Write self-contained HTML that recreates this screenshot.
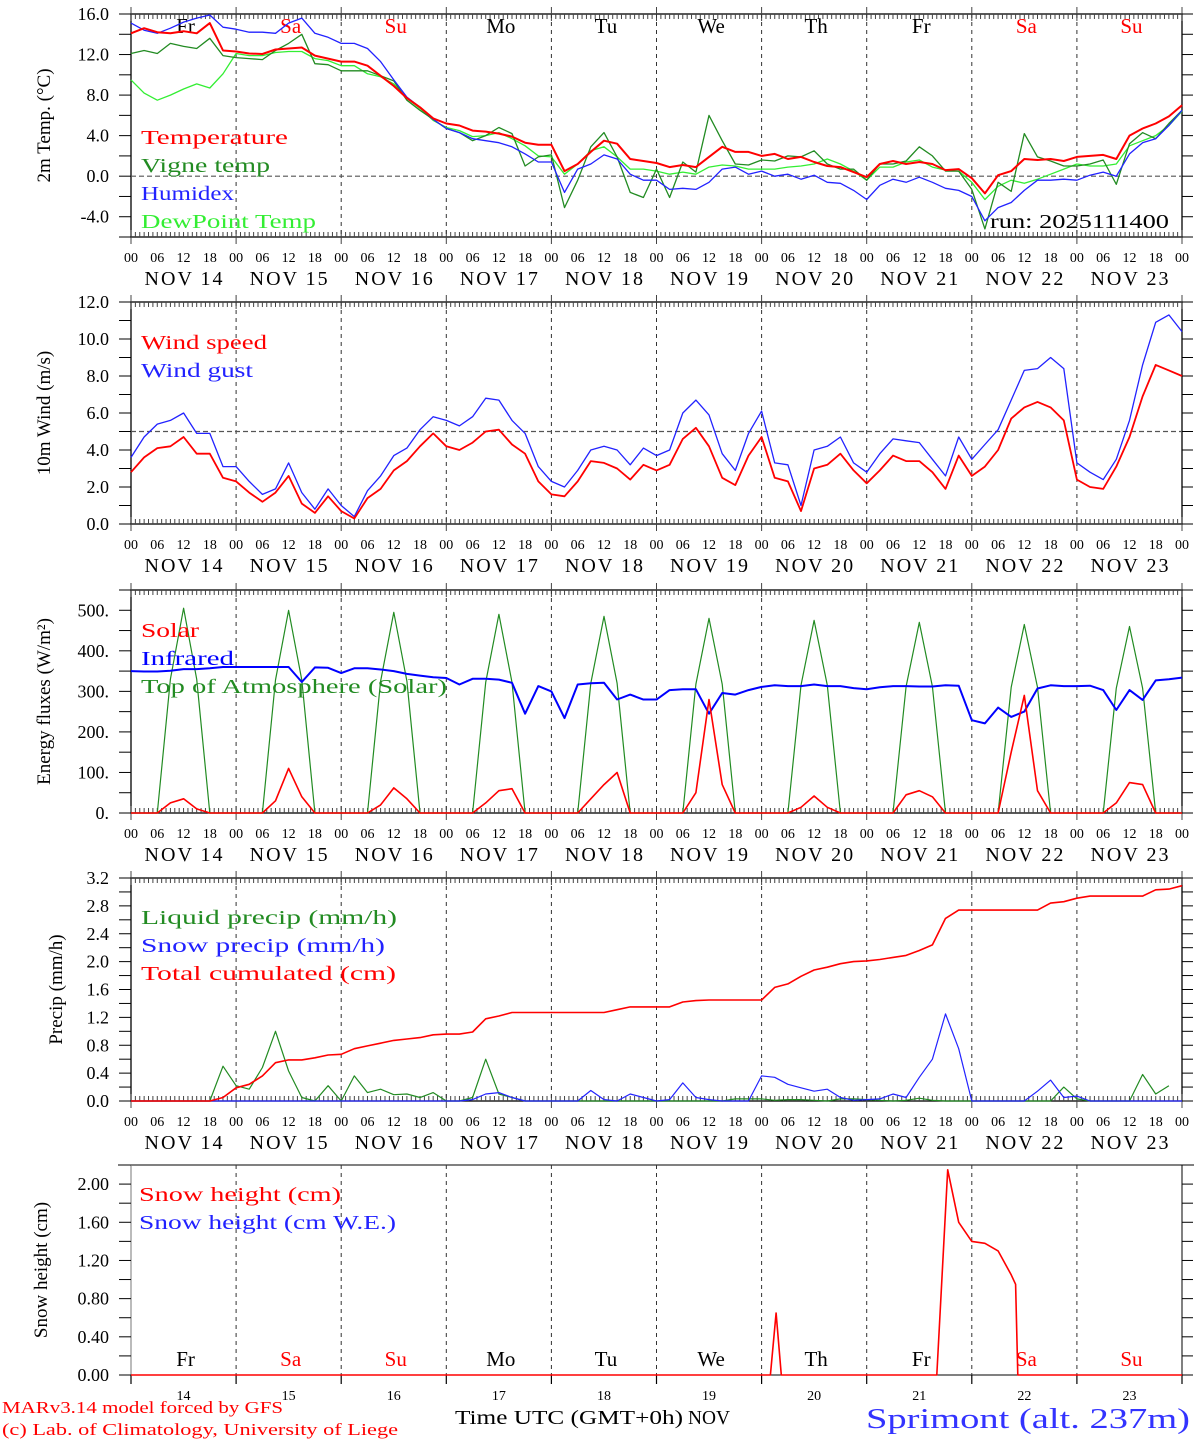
<!DOCTYPE html>
<html><head><meta charset="utf-8"><title>MAR forecast Sprimont</title>
<style>
html,body{margin:0;padding:0;background:#fff;}
svg{display:block;font-family:"Liberation Serif","DejaVu Serif",serif;}
</style></head>
<body>
<svg id="chart" width="1194" height="1440" viewBox="0 0 1194 1440" xmlns="http://www.w3.org/2000/svg"></svg>
<script>
// ---------- DATA (3-hourly, hours since Nov 14 00 UTC) ----------
const hours = [0,3,6,9,12,15,18,21,24,27,30,33,36,39,42,45,48,51,54,57,60,63,66,69,72,75,78,81,84,87,90,93,96,99,102,105,108,111,114,117,120,123,126,129,132,135,138,141,144,147,150,153,156,159,162,165,168,171,174,177,180,183,186,189,192,195,198,201,204,207,210,213,216,219,222,225,228,231,234,237,240];
const dayNames = ["Fr","Sa","Su","Mo","Tu","We","Th","Fr","Sa","Su"];
const dayDates = ["14","15","16","17","18","19","20","21","22","23"];
const hourTickLabels = ["00","06","12","18"];

const temperature = [14.1,14.6,14.2,14.1,14.3,14.1,15.1,12.4,12.3,12.1,12.05,12.5,12.6,12.7,11.9,11.6,11.3,11.3,10.9,9.9,8.9,7.7,6.8,5.7,5.2,5.0,4.5,4.4,4.2,3.9,3.3,3.1,3.1,0.5,1.2,2.4,3.5,3.2,1.7,1.5,1.3,
 0.9,1.1,0.9,1.9,2.9,2.4,2.4,2.0,2.2,1.7,1.9,1.4,1.0,0.9,0.4,-0.1,1.2,1.5,1.2,1.4,1.2,0.6,0.7,-0.2,-1.7,0.1,0.5,1.7,1.6,1.7,1.5,1.9,2.0,2.1,1.7,4.0,4.7,5.2,5.9,7.0];
const humidex = [15.1,14.4,14.1,14.6,15.2,15.6,15.9,14.7,14.5,14.2,14.2,14.1,15.1,15.6,14.1,13.7,13.1,13.1,12.6,11.3,9.5,7.8,6.8,5.6,4.7,4.3,3.7,3.5,3.3,2.9,2.2,1.4,1.4,-1.6,0.7,1.2,2.1,1.7,0.2,-0.4,-0.4,
 -1.3,-1.2,-1.3,-0.6,0.7,0.9,0.2,0.5,0.0,0.2,-0.3,0.1,-0.6,-0.7,-1.4,-2.3,-0.9,-0.3,-0.6,-0.1,-0.6,-1.2,-1.4,-2.0,-4.4,-3.1,-2.6,-1.4,-0.4,-0.4,-0.3,-0.4,0.1,0.4,0.0,2.2,3.3,3.7,5.0,6.5];
const vigneTemp = [12.1,12.4,12.1,13.1,12.8,12.6,13.6,11.9,11.7,11.6,11.5,12.4,13.1,14.0,11.1,11.0,10.4,10.4,10.4,9.9,9.4,7.5,6.5,5.6,4.7,4.3,3.5,4.0,4.8,4.2,1.0,1.9,2.1,-3.1,-0.4,2.9,4.3,1.9,-1.6,-2.1,0.7,
 -2.1,1.4,0.4,6.0,3.5,1.2,1.1,1.6,1.5,2.0,1.9,2.5,1.2,0.7,0.7,-0.4,1.2,1.2,1.5,2.9,2.0,0.5,0.5,-1.3,-5.2,-0.6,-1.5,4.2,1.9,1.5,1.0,1.0,1.2,1.6,-0.8,3.2,4.3,3.7,5.2,6.5];
const dewPoint = [9.5,8.2,7.5,8.0,8.6,9.1,8.7,10.1,12.1,11.9,11.9,12.2,12.3,12.3,11.6,11.4,10.9,10.9,10.1,9.8,9.1,7.7,6.7,5.5,4.8,4.5,3.9,4.0,4.3,3.7,3.0,2.0,1.9,0.2,1.2,2.5,2.9,1.9,0.7,0.7,0.5,
 0.2,0.4,0.2,0.9,1.1,1.0,0.7,0.7,0.7,0.9,1.0,1.2,1.7,1.2,0.5,-0.4,0.9,0.9,1.4,1.6,0.9,0.6,0.5,-0.6,-2.3,-1.0,-0.4,-0.7,-0.3,0.2,0.7,1.2,1.0,1.0,1.2,3.0,3.5,4.0,5.0,6.4];

const windSpeed = [2.8,3.6,4.1,4.2,4.7,3.8,3.8,2.5,2.3,1.7,1.2,1.7,2.6,1.1,0.6,1.5,0.7,0.3,1.4,1.9,2.9,3.4,4.2,4.9,4.2,4.0,4.4,5.0,5.1,4.3,3.8,2.3,1.6,1.5,2.3,3.4,3.3,3.0,2.4,3.2,2.9,
 3.2,4.6,5.2,4.2,2.5,2.1,3.7,4.7,2.5,2.3,0.7,3.0,3.2,3.8,2.9,2.2,2.9,3.7,3.4,3.4,2.8,1.9,3.7,2.6,3.1,4.0,5.7,6.3,6.6,6.3,5.6,2.4,2.0,1.9,3.1,4.7,6.9,8.6,8.3,8.0];
const windGust = [3.6,4.7,5.4,5.6,6.0,4.9,4.9,3.1,3.1,2.3,1.6,1.9,3.3,1.7,0.8,1.9,1.0,0.4,1.8,2.6,3.7,4.1,5.1,5.8,5.6,5.3,5.8,6.8,6.7,5.6,4.9,3.1,2.3,2.0,2.9,4.0,4.2,4.0,3.2,4.1,3.7,
 4.0,6.0,6.7,5.9,3.8,2.9,4.9,6.1,3.3,3.2,1.0,4.0,4.2,4.7,3.3,2.8,3.8,4.6,4.5,4.4,3.5,2.6,4.7,3.5,4.3,5.1,6.7,8.3,8.4,9.0,8.4,3.3,2.8,2.4,3.5,5.6,8.6,10.9,11.3,10.4];

const solar = [0,0,0,25,35,10,0,0, 0,0,0,30,110,40,0,0, 0,0,0,20,62,35,0,0, 0,0,0,25,55,60,0,0, 0,0,0,35,70,100,0,0,
 0,0,0,50,280,70,0,0, 0,0,0,14,42,14,0,0, 0,0,0,45,55,40,0,0, 0,0,0,150,290,55,0,0, 0,0,0,25,75,70,0,0, 0];
const infrared = [350,349,349,351,355,355,357,360,360,360,360,360,360,323,359,358,345,357,357,354,350,343,339,335,333,317,331,331,329,321,245,313,300,234,317,320,321,280,292,280,280,
 303,305,305,245,296,292,303,311,315,313,313,317,313,313,308,305,310,313,313,312,312,315,314,229,221,260,237,250,307,315,313,313,314,303,254,303,279,327,330,334];
const toaSolar = [0,0,0,330,505,330,0,0, 0,0,0,328,500,328,0,0, 0,0,0,325,495,325,0,0, 0,0,0,322,490,322,0,0, 0,0,0,320,485,320,0,0,
 0,0,0,318,480,318,0,0, 0,0,0,315,475,315,0,0, 0,0,0,312,470,312,0,0, 0,0,0,310,465,310,0,0, 0,0,0,308,460,308,0,0, 0];

const liquidPrecip = [0,0,0,0,0,0,0,0.5,0.22,0.17,0.48,1.0,0.43,0.05,0,0.22,0,0.36,0.12,0.17,0.09,0.1,0.05,0.12,0,0,0.05,0.6,0.1,0.05,0,0,0,0,0,0,0,0,0,0,0,
 0,0,0,0,0,0.03,0.03,0.03,0.01,0.02,0.02,0.01,0,0.03,0.03,0.02,0.01,0,0.01,0.04,0.01,0,0,0,0,0,0,0,0,0,0.2,0.03,0,0,0,0,0.38,0.1,0.22];
const snowPrecip = [0,0,0,0,0,0,0,0,0,0,0,0,0,0,0,0,0,0,0,0,0,0,0,0,0,0,0.02,0.1,0.12,0.05,0,0,0,0,0,0.15,0.02,0,0.1,0.05,0,
 0.02,0.26,0.05,0.02,0,0,0,0.36,0.34,0.24,0.19,0.14,0.17,0.05,0.01,0.02,0.03,0.1,0.05,0.34,0.6,1.25,0.75,0,0,0,0,0,0.14,0.3,0.05,0.07,0,0,0,0,0,0,0,0];
const totalCumulated = [0,0,0,0,0,0,0,0.05,0.19,0.24,0.36,0.55,0.59,0.59,0.62,0.66,0.67,0.75,0.79,0.83,0.87,0.89,0.91,0.95,0.96,0.96,0.99,1.18,1.22,1.27,1.27,1.27,1.27,1.27,1.27,1.27,1.27,1.31,1.35,1.35,1.35,
 1.35,1.42,1.44,1.45,1.45,1.45,1.45,1.45,1.63,1.68,1.79,1.88,1.92,1.97,2.0,2.01,2.03,2.06,2.09,2.16,2.24,2.62,2.74,2.74,2.74,2.74,2.74,2.74,2.74,2.84,2.86,2.91,2.94,2.94,2.94,2.94,2.94,3.03,3.04,3.09];

const snowHours = [0,146,147.3,148.5,184,186.5,189,192,195,198,201,202,202.5,240];
const snowHeight = [0,0,0.65,0,0,2.15,1.6,1.4,1.38,1.3,1.05,0.95,0,0];

// ---------- LAYOUT ----------
const NS = "http://www.w3.org/2000/svg";
const svg = document.getElementById("chart");
const X0 = 131, X1 = 1182, HMAX = 240;
function xs(h){ return X0 + h * (X1 - X0) / HMAX; }
function el(tag, attrs, parent){
  const e = document.createElementNS(NS, tag);
  for (const k in attrs) e.setAttribute(k, attrs[k]);
  (parent || svg).appendChild(e);
  return e;
}
function txt(x, y, s, attrs){
  const e = el("text", Object.assign({x:x, y:y}, attrs || {}));
  e.textContent = s;
  return e;
}
function mkPanel(top, bot, min, max){
  return {top, bot, min, max, y: v => top + (max - v) / (max - min) * (bot - top)};
}
const P1 = mkPanel(14, 237, -6, 16);
const P2 = mkPanel(302, 524, 0, 12);
const P3 = mkPanel(590, 813, 0, 550);
const P4 = mkPanel(878, 1101, 0, 3.2);
const P5 = mkPanel(1165, 1375, 0, 2.2);

function series(panel, arr, color, width, name, hx){
  const hh = hx || hours;
  let d = "";
  for (let i = 0; i < arr.length; i++) d += (i ? "L" : "M") + xs(hh[i]).toFixed(1) + "," + panel.y(arr[i]).toFixed(1);
  const p = el("path", {d:d, fill:"none", stroke:color, "stroke-width":width, "stroke-linejoin":"round"});
  
  
  return p;
}

function yAxis(panel, step, labelEvery, fmt, titleText, titleX, name){
  const n = Math.round((panel.max - panel.min) / step);
  for (let i = 0; i <= n; i++){
    const v = panel.min + i * step;
    const y = panel.y(v);
    const t1 = el("line", {x1:119, y1:y, x2:X0, y2:y, stroke:"#000", "stroke-width":1});
    
    
    const t2 = el("line", {x1:X1, y1:y, x2:X1+11, y2:y, stroke:"#000", "stroke-width":1});
    
    
    if (Math.abs(((v / labelEvery) - Math.round(v / labelEvery))) < 1e-6){
      if (!(panel === P1 && v === -6) && !(panel === P3 && v === 550) && !(panel === P5 && Math.abs(v-2.2)<1e-6)){
        const lb = txt(109, y + 6, fmt(v), {"font-size":18, "text-anchor":"end", fill:"#000"});
        
        
      }
    }
  }
  const cy = (panel.top + panel.bot) / 2;
  const tt = txt(titleX, cy, titleText, {"font-size":19, "text-anchor":"middle", transform:"rotate(-90 " + titleX + " " + cy + ")", fill:"#000"});
  
  
}

function xFrame(panel, name, withLabels){
  const r = el("rect", {x:X0, y:panel.top, width:X1-X0, height:panel.bot-panel.top, fill:"none", stroke:"#000", "stroke-width":1.3});
  
  
  for (let h = 0; h <= HMAX; h++){
    const x = xs(h);
    const major = h % 24 === 0;
    const a = el("line", {x1:x, y1:major ? panel.top-7 : panel.top, x2:x, y2:panel.top + (major ? 7 : 5), stroke:"#444", "stroke-width":1});
    
    
    const b = el("line", {x1:x, y1:panel.bot - (major ? 7 : 5), x2:x, y2:major ? panel.bot+7 : panel.bot, stroke:"#444", "stroke-width":1});
    
    
  }
  for (let d = 1; d < 10; d++){
    const x = xs(d * 24);
    const g = el("line", {x1:x, y1:panel.top, x2:x, y2:panel.bot, stroke:"#333", "stroke-width":1, "stroke-dasharray":"4 4"});
    
    
  }
  if (withLabels){
    for (let h = 0; h <= HMAX; h += 6){
      const l = txt(xs(h), panel.bot + 25, hourTickLabels[(h % 24) / 6], {"font-size":14, "text-anchor":"middle", fill:"#000"});
      
      
    }
    for (let d = 0; d < 10; d++){
      const l = txt(xs(d * 24 + 12), panel.bot + 48, "NOV " + dayDates[d], {"font-size":20, "text-anchor":"middle", fill:"#000", textLength:78, lengthAdjust:"spacing"});
      
      
    }
  }
}

function legend(x, y, s, color, w, name){
  const l = txt(x, y, s, {"font-size":20, fill:color, textLength:w, lengthAdjust:"spacingAndGlyphs"});
  
  
}

function hdash(panel, v, name){
  const l = el("line", {x1:X0, y1:panel.y(v), x2:X1, y2:panel.y(v), stroke:"#555", "stroke-width":1.2, "stroke-dasharray":"5 3"});
  
  
}

function dayLabels(y, name){
  for (let d = 0; d < 10; d++){
    const red = dayNames[d] === "Sa" || dayNames[d] === "Su";
    const l = txt(xs(d * 24 + 12) + 2, y, dayNames[d], {"font-size":21, "text-anchor":"middle", fill: red ? "#ff0000" : "#000"});
    
    
  }
}

// ---------- PANEL 1: temperature ----------
xFrame(P1, "temp-panel", true);
yAxis(P1, 2, 4, v => v.toFixed(1), "2m Temp. (\u00B0C)", 50, "temp-y-axis");
hdash(P1, 0, "temp-zero-line");
dayLabels(33, "weekday-label-top");
series(P1, dewPoint, "#33ee33", 1.3, "dewpoint-line");
series(P1, vigneTemp, "#228b22", 1.3, "vigne-temp-line");
series(P1, humidex, "#2222ff", 1.3, "humidex-line");
series(P1, temperature, "#ff0000", 2, "temperature-line");
legend(141, 144, "Temperature", "#ff0000", 147, "legend-temperature");
legend(141, 172, "Vigne temp", "#228b22", 129, "legend-vigne-temp");
legend(141, 200, "Humidex", "#2222ff", 93, "legend-humidex");
legend(141, 228, "DewPoint Temp", "#33ee33", 175, "legend-dewpoint");
const run = txt(990, 228, "run: 2025111400", {"font-size":20, fill:"#000", textLength:179, lengthAdjust:"spacingAndGlyphs"});



// ---------- PANEL 2: wind ----------
xFrame(P2, "wind-panel", true);
yAxis(P2, 1, 2, v => v.toFixed(1), "10m Wind (m/s)", 50, "wind-y-axis");
hdash(P2, 5, "wind-threshold-line");
series(P2, windGust, "#2222ff", 1.3, "wind-gust-line");
series(P2, windSpeed, "#ff0000", 1.8, "wind-speed-line");
legend(141, 349, "Wind speed", "#ff0000", 126, "legend-wind-speed");
legend(141, 377, "Wind gust", "#2222ff", 112, "legend-wind-gust");

// ---------- PANEL 3: energy ----------
xFrame(P3, "energy-panel", true);
yAxis(P3, 50, 100, v => v.toFixed(0) + ".", "Energy fluxes (W/m\u00B2)", 50, "energy-y-axis");
series(P3, toaSolar, "#228b22", 1.2, "toa-solar-line");
series(P3, infrared, "#0000ff", 2, "infrared-line");
series(P3, solar, "#ff0000", 1.6, "solar-line");
legend(141, 637, "Solar", "#ff0000", 58, "legend-solar");
legend(141, 665, "Infrared", "#0000ff", 93, "legend-infrared");
legend(141, 693, "Top of Atmosphere (Solar)", "#228b22", 306, "legend-toa-solar");

// ---------- PANEL 4: precip ----------
xFrame(P4, "precip-panel", true);
yAxis(P4, 0.2, 0.4, v => v.toFixed(1), "Precip (mm/h)", 62, "precip-y-axis");
series(P4, liquidPrecip, "#228b22", 1.2, "liquid-precip-line");
series(P4, snowPrecip, "#2222ff", 1.2, "snow-precip-line");
series(P4, totalCumulated, "#ff0000", 1.6, "total-cumulated-line");
legend(141, 924, "Liquid precip (mm/h)", "#228b22", 256, "legend-liquid-precip");
legend(141, 952, "Snow precip (mm/h)", "#2222ff", 244, "legend-snow-precip");
legend(141, 980, "Total cumulated (cm)", "#ff0000", 255, "legend-total-cumulated");

// ---------- PANEL 5: snow height ----------
const topLine = el("line", {x1:118, y1:P5.top, x2:1194, y2:P5.top, stroke:"#000", "stroke-width":1});


const lAx = el("line", {x1:X0, y1:P5.top, x2:X0, y2:P5.bot, stroke:"#777", "stroke-width":1});


const rAx = el("line", {x1:X1, y1:P5.top, x2:X1, y2:P5.bot + 8, stroke:"#000", "stroke-width":1});


const bAx = el("line", {x1:X0, y1:P5.bot, x2:X1, y2:P5.bot, stroke:"#000", "stroke-width":1});


for (let d = 0; d <= 10; d++){
  const x = xs(d * 24);
  if (d > 0 && d < 10){
    const g = el("line", {x1:x, y1:P5.top, x2:x, y2:P5.bot, stroke:"#333", "stroke-width":1, "stroke-dasharray":"4 4"});
    
    
  }
  const t = el("line", {x1:x, y1:P5.bot, x2:x, y2:P5.bot + 9, stroke:"#000", "stroke-width":1.2});
  
  
}
yAxis(P5, 0.2, 0.4, v => v.toFixed(2), "Snow height (cm)", 47, "snow-y-axis");
dayLabels(1366, "weekday-label-bottom");
series(P5, snowHeight, "#ff0000", 1.6, "snow-height-line", snowHours);
legend(139, 1201, "Snow height (cm)", "#ff0000", 202, "legend-snow-height");
legend(139, 1229, "Snow height (cm W.E.)", "#2222ff", 257, "legend-snow-height-we");
for (let d = 0; d < 10; d++){
  const l = txt(xs(d * 24 + 12), 1400, dayDates[d], {"font-size":14, "text-anchor":"middle", fill:"#000"});
  
  
}
const xt = txt(455, 1424, "Time UTC (GMT+0h)", {"font-size":20, fill:"#000", textLength:228, lengthAdjust:"spacingAndGlyphs"});


const nov = txt(688, 1424, "NOV", {"font-size":20, fill:"#000", textLength:42, lengthAdjust:"spacingAndGlyphs"});


const f1 = txt(2, 1413, "MARv3.14 model forced by GFS", {"font-size":17, fill:"#ff0000", textLength:281, lengthAdjust:"spacingAndGlyphs"});


const f2 = txt(2, 1435, "(c) Lab. of Climatology, University of Liege", {"font-size":17, fill:"#ff0000", textLength:396, lengthAdjust:"spacingAndGlyphs"});


const loc = txt(866, 1428, "Sprimont (alt. 237m)", {"font-size":29, fill:"#3333ff", textLength:324, lengthAdjust:"spacingAndGlyphs"});


</script>
</body></html>
